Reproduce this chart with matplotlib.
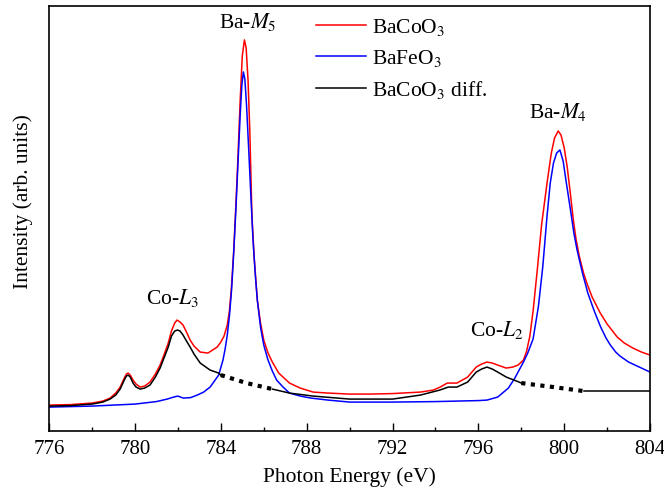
import matplotlib
matplotlib.use("Agg")
import matplotlib.pyplot as plt
from matplotlib.ticker import MultipleLocator
import numpy as np

plt.rcParams['font.family'] = ['Liberation Serif', 'DejaVu Serif']
plt.rcParams['mathtext.fontset'] = 'stix'

# BaCoO3
e_co = [776.0, 777.0, 778.0, 778.5, 778.84, 779.1, 779.31, 779.5, 779.6, 779.68,
        779.78, 779.91, 780.05, 780.24, 780.45, 780.7, 780.95, 781.17, 781.35, 781.55,
        781.7, 781.85, 781.96, 782.1, 782.24, 782.4, 782.57, 782.75, 783.04, 783.4,
        783.83, 784.0, 784.15, 784.3, 784.4, 784.5, 784.6, 784.7, 784.8, 784.9,
        785.0, 785.1, 785.18, 785.27, 785.35, 785.45, 785.55, 785.7, 785.85, 786.0,
        786.2, 786.4, 786.7, 787.2, 787.7, 788.3, 789.0, 790.0, 791.0, 792.0,
        793.3, 793.9, 794.22, 794.55, 795.0, 795.5, 795.9, 796.15, 796.4, 796.65,
        796.9, 797.3, 797.6, 797.85, 798.1, 798.25, 798.4, 798.55, 798.74, 798.95,
        799.2, 799.4, 799.55, 799.72, 799.85, 800.0, 800.14, 800.3, 800.42, 800.55,
        800.7, 800.9, 801.07, 801.3, 801.68, 802.0, 802.47, 802.8, 803.2, 803.6,
        804.0]
i_co = [26, 26.5, 28, 30, 33, 38, 44, 53, 57, 58,
        56, 51, 47, 44, 45, 49, 57, 66, 76, 88,
        100, 108, 111, 109, 106, 99, 91, 85, 79, 78,
        84, 89, 95, 106, 120, 145, 180, 225, 275, 330,
        375, 391, 383, 350, 300, 215, 175, 131, 108, 91,
        78, 69, 58, 48, 43, 39, 38, 37, 37, 37.5,
        39, 41, 44, 48, 48, 54, 64, 67, 69, 68,
        66, 63, 64, 66, 71, 80, 95, 120, 160, 207,
        248, 278, 293, 300, 296, 283, 264, 235, 212, 192,
        175, 158, 147, 134, 118, 107, 94, 88, 83, 79,
        76]

# BaFeO3
e_fe = [776.0, 778.0, 780.0, 781.0, 781.5, 781.8, 782.0, 782.25, 782.6, 782.9,
        783.2, 783.5, 783.9, 784.1, 784.2, 784.3, 784.4, 784.5, 784.6, 784.7,
        784.8, 784.9, 784.98, 785.05, 785.12, 785.2, 785.3, 785.4, 785.5, 785.6,
        785.7, 785.85, 786.0, 786.2, 786.4, 786.6, 786.9, 787.2, 787.7, 788.2,
        789.0, 790.0, 792.0, 794.0, 796.0, 796.4, 796.9, 797.4, 797.7, 798.1,
        798.3, 798.55, 798.8, 799.0, 799.2, 799.35, 799.5, 799.65, 799.8, 799.95,
        800.1, 800.3, 800.45, 800.6, 800.85, 801.1, 801.4, 801.7, 801.95, 802.15,
        802.4, 802.6, 803.0, 803.5, 804.0]
i_fe = [24, 25, 27, 29.5, 32, 34, 35, 33, 33.5, 36,
        39, 44, 56, 71, 82, 96, 115, 141, 178, 221,
        268, 315, 346, 359, 352, 325, 281, 235, 191, 158,
        131, 104, 86, 71, 60, 51, 44, 38, 35, 33,
        31, 29, 29, 29.5, 30.5, 31, 34, 43, 53, 69,
        78, 92, 125, 164, 215, 248, 268, 278, 281, 270,
        248, 220, 198, 181, 158, 138, 120, 104, 93, 86,
        79, 75, 69, 64, 59]

# BaCoO3 difference
e_diff = [776.0, 777.0, 778.0, 778.5, 778.84, 779.1, 779.31, 779.5, 779.6, 779.68,
          779.78, 779.91, 780.05, 780.24, 780.45, 780.7, 780.95, 781.17, 781.35, 781.55,
          781.7, 781.85, 781.98, 782.1, 782.24, 782.4, 782.57, 782.75, 783.04, 783.5,
          783.9, 784.0, 785.2, 786.4, 787.2, 788.3, 790.0, 792.0, 793.3, 794.2,
          794.6, 795.0, 795.5, 795.9, 796.15, 796.4, 796.65, 796.9, 797.3, 797.9,
          798.0, 799.5, 800.9, 801.1, 804.0]
i_diff = [25, 25.5, 27, 29, 32, 36, 42, 51, 55, 56,
          54, 48, 44, 42, 43, 46, 54, 63, 73, 84,
          95, 100, 101, 100, 96, 90, 84, 77, 68, 61,
          58, 56, 48, 42, 38, 35, 32, 32, 36, 41,
          44, 44, 49, 59, 62, 64, 62, 59, 54, 49,
          48, 44, 40, 40, 40]
dotted_ranges = [(784.0, 786.4), (798.0, 800.9)]
solid_ranges = [(776.0, 784.0), (786.4, 798.0), (800.9, 804.0)]

fig, ax = plt.subplots(figsize=(6.64, 4.91), dpi=100)
fig.subplots_adjust(left=0.074, right=0.979, bottom=0.122, top=0.988)

ax.plot(e_co, i_co, color='red', lw=1.1, label='BaCoO$_3$')
ax.plot(e_fe, i_fe, color='blue', lw=1.1, label='BaFeO$_3$')

ed = np.array(e_diff)
idf = np.array(i_diff)
first = True
for lo, hi in solid_ranges:
    m = (ed >= lo) & (ed <= hi)
    ax.plot(ed[m], idf[m], color='black', lw=1.1,
            label='BaCoO$_3$ diff.' if first else None)
    first = False
for lo, hi in dotted_ranges:
    m = (ed >= lo) & (ed <= hi)
    ax.plot(ed[m], idf[m], color='black', lw=3, linestyle=(0, (1, 1.3)),
            dash_capstyle='butt')

fs = 15.5
ax.text(785.27, 409, 'Ba-$M_5$', ha='center', va='center', fontsize=fs)
ax.text(781.73, 133, 'Co-$L_3$', ha='center', va='center', fontsize=fs)
ax.text(796.83, 101, 'Co-$L_2$', ha='center', va='center', fontsize=fs)
ax.text(799.72, 319, 'Ba-$M_4$', ha='center', va='center', fontsize=fs)

ax.set_xlim(776, 804)
ax.set_ylim(0, 425)
ax.xaxis.set_major_locator(MultipleLocator(4))
ax.xaxis.set_minor_locator(MultipleLocator(2))
ax.set_yticks([])
ax.tick_params(axis='x', which='major', direction='in', length=6, width=1,
               labelsize=15, pad=6.5, top=False)
ax.tick_params(axis='x', which='minor', direction='in', length=3, width=1, top=False)
for s in ax.spines.values():
    s.set_linewidth(1.2)
ax.set_xlabel('Photon Energy (eV)', fontsize=fs, labelpad=6)
ax.set_ylabel('Intensity (arb. units)', fontsize=fs)
ax.yaxis.set_label_coords(-0.027, 0.539)

ax.legend(loc='upper left', bbox_to_anchor=(0.412, 1.02), frameon=False,
          fontsize=fs, handlelength=2.32, handletextpad=0.3, labelspacing=0.47)

fig.savefig('out.png', dpi=100)
